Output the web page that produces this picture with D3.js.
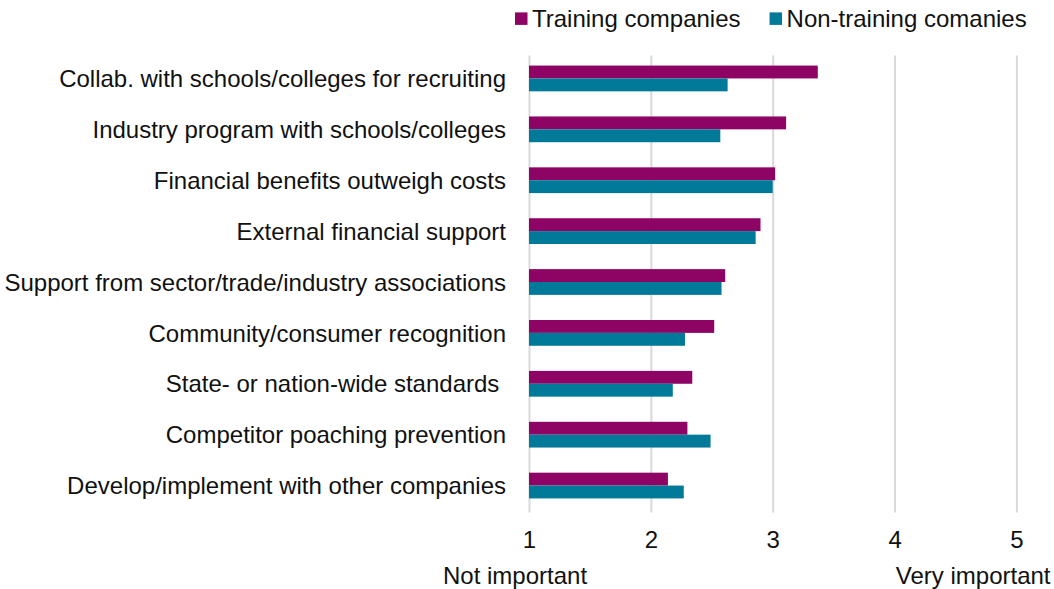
<!DOCTYPE html>
<html>
<head>
<meta charset="utf-8">
<script src="https://cdn.jsdelivr.net/npm/d3@7"></script>
<style>
    body { margin: 0; background: #fff; }
    text { font-family: "Liberation Sans", Arial, sans-serif; }
</style>
</head>
<body>
<div id="chart"></div>
<script>
var categories = [
    "Collab. with schools/colleges for recruiting",
    "Industry program with schools/colleges",
    "Financial benefits outweigh costs",
    "External financial support",
    "Support from sector/trade/industry associations",
    "Community/consumer recognition",
    "State- or nation-wide standards ",
    "Competitor poaching prevention",
    "Develop/implement with other companies"
];
var seriesNames = ["Training companies", "Non-training comanies"];
var training = [3.37, 3.11, 3.02, 2.90, 2.61, 2.52, 2.34, 2.30, 2.14];
var nonTraining = [2.63, 2.57, 3.00, 2.86, 2.58, 2.28, 2.18, 2.49, 2.27];
var tickValues = [1, 2, 3, 4, 5];
var endLabels = ["Not important", "Very important"];

var dims = {
    width: 1054,
    height: 589,
    left: 529,
    right: 1016.4,
    top: 53,
    bottom: 511,
    fontSize: 24,
    color: d3.scaleOrdinal().domain(seriesNames).range(["#8e0464", "#007a98"])
};

var rows = categories.map(function(c, i){
    return {cat: c, values: [
        {name: seriesNames[0], value: training[i]},
        {name: seriesNames[1], value: nonTraining[i]}
    ]};
});

var x = d3.scaleLinear()
    .domain([1, 5])
    .range([dims.left, dims.right]);

var y = d3.scaleBand()
    .domain(categories)
    .range([dims.top, dims.bottom])
    .paddingInner(0.494)
    .paddingOuter(0.247);

var ySeries = d3.scaleBand()
    .domain(seriesNames)
    .range([0, y.bandwidth()]);

var svg = d3.select('#chart')
    .append('svg')
    .attr('width', dims.width)
    .attr('height', dims.height);

// gridlines + tick labels
var xAxis = svg.append('g')
    .attr('transform', 'translate(0,' + (dims.bottom + 1.5) + ')')
    .call(d3.axisBottom(x)
        .tickValues(tickValues)
        .tickFormat(d3.format('d'))
        .tickSizeInner(-(dims.bottom + 1.5 - 55.5))
        .tickSizeOuter(0)
        .tickPadding(18));

xAxis.select('.domain').remove();
xAxis.selectAll('.tick line')
    .attr('stroke', '#d9d9d9')
    .attr('stroke-width', 2);
xAxis.selectAll('.tick text')
    .attr('fill', '#111')
    .style('font-size', dims.fontSize + 'px')
    .style('font-family', '"Liberation Sans", Arial, sans-serif');

// category labels
svg.append('g')
    .selectAll('text')
    .data(categories)
    .enter()
    .append('text')
    .attr('x', dims.left - 23)
    .attr('y', function(d){ return y(d) + y.bandwidth() / 2; })
    .attr('dy', '0.36em')
    .attr('text-anchor', 'end')
    .attr('fill', '#111')
    .style('font-size', dims.fontSize + 'px')
    .style('white-space', 'pre')
    .text(function(d){ return d; });

// bars
var groups = svg.append('g')
    .selectAll('g')
    .data(rows)
    .enter()
    .append('g')
    .attr('transform', function(d){ return 'translate(0,' + y(d.cat) + ')'; });

groups.selectAll('rect')
    .data(function(d){ return d.values; })
    .enter()
    .append('rect')
    .attr('x', x(1))
    .attr('y', function(d){ return ySeries(d.name); })
    .attr('width', function(d){ return x(d.value) - x(1); })
    .attr('height', ySeries.bandwidth())
    .attr('fill', function(d){ return dims.color(d.name); });

// legend
var legend = svg.append('g')
    .attr('transform', 'translate(515,0)');
var lx = 0;
seriesNames.forEach(function(name){
    legend.append('rect')
        .attr('x', lx)
        .attr('y', 12.4)
        .attr('width', 12.5)
        .attr('height', 12.5)
        .attr('fill', dims.color(name));
    var t = legend.append('text')
        .attr('x', lx + 17)
        .attr('y', 27)
        .attr('fill', '#111')
        .style('font-size', dims.fontSize + 'px')
        .text(name);
    lx += 17 + t.node().getComputedTextLength() + 29;
});

// end labels under the axis
svg.append('text')
    .attr('x', 443)
    .attr('y', 583.5)
    .attr('fill', '#111')
    .style('font-size', dims.fontSize + 'px')
    .text(endLabels[0]);

svg.append('text')
    .attr('x', 1050.5)
    .attr('y', 583.5)
    .attr('text-anchor', 'end')
    .attr('fill', '#111')
    .style('font-size', dims.fontSize + 'px')
    .text(endLabels[1]);
</script>
</body>
</html>
